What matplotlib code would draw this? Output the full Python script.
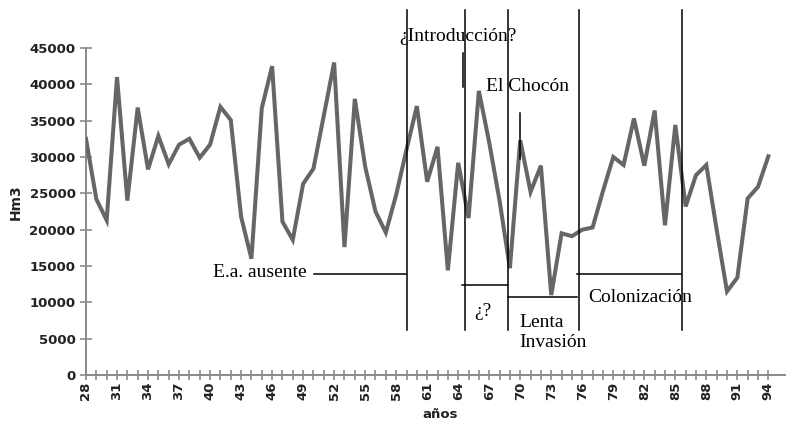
import matplotlib
matplotlib.use("Agg")
import matplotlib.pyplot as plt

# ---- data ----
years = list(range(28, 95))
caudal = [32500, 24200, 21300, 41000, 24000, 36800, 28300, 32900, 29000, 31700,
          32500, 29900, 31700, 36900, 35100, 21800, 16000, 36700, 42500, 21100,
          18600, 26300, 28400, 35700, 43000, 17600, 38000, 28700, 22500, 19600,
          24800, 31000, 37000, 26600, 31400, 14400, 29200, 21600, 39100, 32000,
          24000, 14700, 32300, 25200, 28800, 11000, 19500, 19100, 20000, 20300,
          25300, 30000, 28900, 35300, 28800, 36400, 20600, 34400, 23200, 27500,
          28900, 20000, 11500, 13400, 24300, 25900, 30100]
xtick_years = [28, 31, 34, 37, 40, 43, 46, 49, 52, 55, 58, 61, 64, 67, 70, 73,
               76, 79, 82, 85, 88, 91, 94]
ytick_vals = [0, 5000, 10000, 15000, 20000, 25000, 30000, 35000, 40000, 45000]

fig = plt.figure(figsize=(7.9, 4.21), dpi=100)
ax = fig.add_axes([86/790, 1-375/421, 698.9/790, 327/421])

ax.plot(years, caudal, color="#666666", lw=2.9, solid_joinstyle="miter", zorder=3)

ax.set_xlim(28, 95.6)
ax.set_ylim(0, 45000)
for s in ["top", "right"]:
    ax.spines[s].set_visible(False)
for s in ["left", "bottom"]:
    ax.spines[s].set_color("#8a8a8a")
    ax.spines[s].set_linewidth(1.4)

ax.set_xticks(years, minor=True)
ax.set_xticks(xtick_years)
ax.set_xticklabels([str(y) for y in xtick_years], rotation=90,
                   fontweight="bold", fontsize=9.5, color="#222222",
                   family="DejaVu Sans")
ax.set_yticks(ytick_vals)
ax.set_yticklabels([str(v) for v in ytick_vals], fontweight="bold",
                   fontsize=9.5, color="#222222", family="DejaVu Sans")
ax.tick_params(axis="x", which="both", direction="inout", length=7,
               width=1.2, color="#8a8a8a", pad=1)
ax.tick_params(axis="y", direction="inout", length=9, width=1.2,
               color="#8a8a8a", pad=3)

ax.text(-0.10, 0.53, "Hm3", transform=ax.transAxes, rotation=90,
        fontweight="bold", fontsize=10, ha="center", va="center",
        color="#222222", family="DejaVu Sans")
ax.text(0.507, -0.131, "años", transform=ax.transAxes, fontweight="bold",
        fontsize=9.5, ha="center", va="baseline", color="#222222",
        family="DejaVu Sans")

# ---- annotations (period boundaries) ----
lk = dict(color="black", lw=1.1, clip_on=False, zorder=4)
for xv in [59.08, 64.66, 68.85, 75.72, 85.68]:
    ax.plot([xv, xv], [6200, 50200], **lk)
ax.plot([64.44, 64.44], [39600, 44300], **lk)
ax.plot([69.98, 69.98], [29700, 36050], **lk)
ax.plot([50.05, 58.96], [13900, 13900], **lk)
ax.plot([64.40, 68.85], [12400, 12400], **lk)
ax.plot([68.82, 75.50], [10730, 10730], **lk)
ax.plot([75.52, 85.52], [13900, 13900], **lk)

tk = dict(family="Liberation Serif", fontsize=14, color="black", zorder=5,
          clip_on=False)
ax.text(63.98, 46650, "¿Introducción?", ha="center", va="center", **tk)
ax.text(70.66, 39770, "El Chocón", ha="center", va="center", **tk)
ax.text(49.38, 14170, "E.a. ausente", ha="right", va="center", **tk)
ax.text(66.4, 8670, "¿?", ha="center", va="center", **tk)
ax.text(69.88, 8450, "Lenta\nInvasión", ha="left", va="top",
        linespacing=1.3, **tk)
ax.text(76.56, 10730, "Colonización", ha="left", va="center", **tk)

fig.savefig("out.png", dpi=100, facecolor="white")
